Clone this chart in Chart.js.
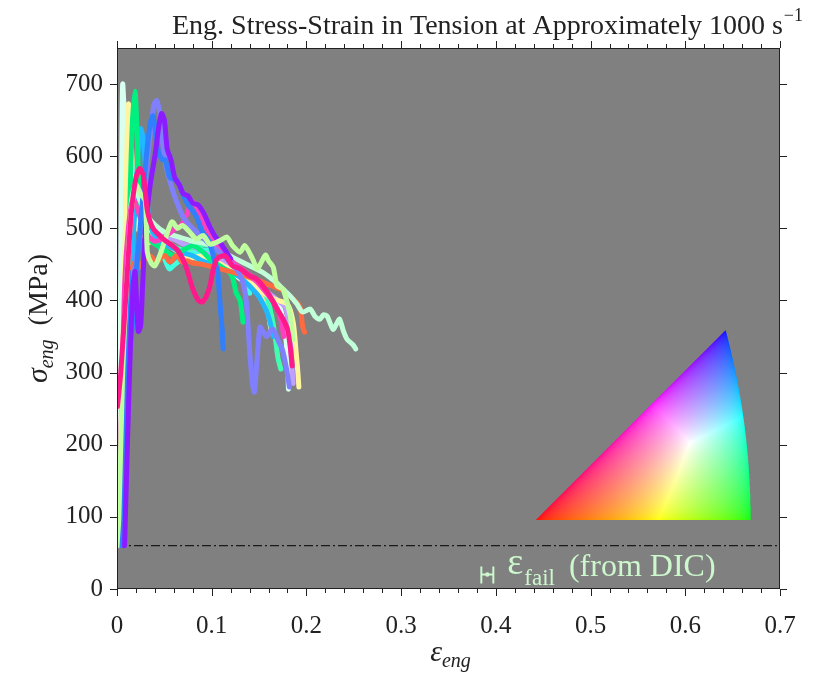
<!DOCTYPE html>
<html>
<head>
<meta charset="utf-8">
<script src="https://cdn.jsdelivr.net/npm/chart.js@4.4.1/dist/chart.umd.min.js"></script>
<style>
  html, body { margin: 0; padding: 0; background: #fff; }
</style>
</head>
<body>
<canvas id="stressChart" width="830" height="674"></canvas>
<script>
(function () {
    "use strict";

    // engineering strain / stress (MPa) pairs
    var curveDeepPink = [[0.0005,253],[0.004,300],[0.01,420],[0.015,520],[0.02,570],[0.024,583],[0.028,572],[0.032,525],[0.038,500],[0.049,485],[0.063,471],[0.072,450],[0.08,416],[0.086,400],[0.09,398],[0.094,405],[0.098,420],[0.102,445],[0.106,458],[0.114,462],[0.122,448],[0.13,444],[0.14,434],[0.147,430],[0.154,420],[0.162,405],[0.169,388],[0.175,375],[0.18,360],[0.183,335],[0.185,309]];
    var curvePaleGreen = [[0.0,60],[0.002,100],[0.006,300],[0.01,420],[0.015,520],[0.02,560],[0.025,548],[0.03,537],[0.032,467],[0.036,452],[0.04,448],[0.045,462],[0.05,481],[0.058,509],[0.064,500],[0.069,504],[0.076,496],[0.084,485],[0.091,490],[0.098,478],[0.104,480],[0.109,483],[0.116,488],[0.122,476],[0.13,467],[0.135,476],[0.143,458],[0.148,444],[0.152,452],[0.157,463],[0.16,455],[0.165,446],[0.169,420],[0.175,416],[0.179,400],[0.183,378],[0.186,345]];
    var curvePurple = [[0.008,60],[0.011,200],[0.014,330],[0.017,420],[0.019,440],[0.021,390],[0.0225,357],[0.025,365],[0.027,420],[0.03,500],[0.035,560],[0.04,600],[0.044,640],[0.047,659],[0.05,650],[0.053,610],[0.057,595],[0.061,570],[0.066,560],[0.07,548],[0.075,545],[0.08,535],[0.086,532],[0.092,520],[0.097,505],[0.103,490],[0.11,478],[0.12,458]];
    var curveBlue = [[0.005,60],[0.008,250],[0.01,420],[0.012,440],[0.0137,341],[0.016,360],[0.019,420],[0.023,480],[0.027,540],[0.031,600],[0.035,645],[0.038,656],[0.041,630],[0.044,605],[0.048,595],[0.051,595],[0.056,570],[0.063,567],[0.069,549],[0.074,535],[0.084,516],[0.09,495],[0.096,485],[0.1,470],[0.104,450],[0.106,444],[0.109,392],[0.111,360],[0.112,333]];
    var curvePeriwinkle = [[0.004,70],[0.01,300],[0.016,420],[0.022,470],[0.027,520],[0.031,580],[0.035,630],[0.039,672],[0.042,677],[0.045,660],[0.048,620],[0.052,585],[0.057,560],[0.062,540],[0.07,515],[0.08,500],[0.09,488],[0.1,475],[0.11,465],[0.12,452],[0.128,440],[0.134,420],[0.137,392],[0.14,330],[0.143,285],[0.145,273],[0.148,320],[0.151,363],[0.155,355],[0.158,350],[0.162,358],[0.165,360],[0.17,345],[0.175,330],[0.179,305],[0.182,280]];
    var curveHotPink = [[0.002,78],[0.004,200],[0.008,420],[0.012,500],[0.017,540],[0.022,525],[0.03,495],[0.04,482],[0.05,488],[0.06,498],[0.068,505],[0.074,520],[0.079,537],[0.084,530],[0.09,512],[0.095,499],[0.1,488],[0.106,478],[0.115,462],[0.125,450],[0.135,440],[0.145,430],[0.155,415],[0.165,398],[0.172,380],[0.176,350]];
    var curveMintTail = [[0.004,70],[0.008,350],[0.013,510],[0.018,555],[0.024,540],[0.03,520],[0.04,505],[0.05,495],[0.065,488],[0.08,482],[0.095,478],[0.11,468],[0.125,458],[0.14,448],[0.155,438],[0.168,425],[0.176,415],[0.183,406],[0.19,395],[0.196,384],[0.204,388],[0.209,378],[0.214,374],[0.218,380],[0.222,378],[0.228,360],[0.232,368],[0.235,374],[0.239,358],[0.243,346],[0.249,339],[0.252,333]];
    var curveOrange = [[0.003,70],[0.007,250],[0.011,380],[0.015,440],[0.018,452],[0.021,444],[0.025,450],[0.028,455],[0.033,462],[0.037,460],[0.041,452],[0.044,455],[0.048,462],[0.051,462],[0.055,454],[0.058,455],[0.062,462],[0.065,460],[0.069,453],[0.074,455],[0.08,452],[0.09,450],[0.1,447],[0.12,440],[0.14,432],[0.16,422],[0.175,414],[0.186,402],[0.193,392],[0.196,364],[0.198,356]];
    var curveSpringGreen = [[0.006,70],[0.01,300],[0.013,500],[0.016,640],[0.019,690],[0.021,640],[0.023,560],[0.026,510],[0.03,490],[0.038,480],[0.05,470],[0.06,462],[0.07,470],[0.08,476],[0.09,468],[0.1,455],[0.11,447],[0.118,440],[0.122,432],[0.126,410],[0.13,400],[0.133,370]];
    var curveSky = [[0.006,70],[0.01,250],[0.015,430],[0.019,530],[0.022,600],[0.025,638],[0.028,620],[0.031,560],[0.034,510],[0.04,490],[0.05,478],[0.06,472],[0.07,466],[0.08,462],[0.09,455],[0.1,450],[0.11,445],[0.12,440],[0.13,432],[0.14,420],[0.15,405],[0.158,385],[0.162,368],[0.165,350]];
    var curveYellow = [[0.003,80],[0.006,300],[0.009,520],[0.012,672],[0.015,620],[0.018,540],[0.022,500],[0.028,490],[0.035,500],[0.045,488],[0.06,472],[0.075,458],[0.09,462],[0.1,456],[0.11,450],[0.125,438],[0.14,425],[0.155,410],[0.17,400],[0.18,395],[0.186,370],[0.189,330],[0.191,300],[0.192,280]];
    var curveLavender = [[0.002,60],[0.005,250],[0.008,400],[0.012,480],[0.016,530],[0.021,552],[0.026,530],[0.032,505],[0.04,495],[0.05,490],[0.06,485],[0.07,478],[0.08,475],[0.09,468],[0.1,460],[0.11,455],[0.12,448],[0.13,440],[0.14,430],[0.15,420],[0.16,410],[0.17,400],[0.178,390],[0.182,360],[0.184,320],[0.186,285]];
    var curveAquaGreen = [[0.004,80],[0.009,400],[0.013,540],[0.017,560],[0.021,530],[0.028,505],[0.04,490],[0.055,478],[0.07,470],[0.085,475],[0.1,478],[0.11,465],[0.12,450],[0.13,440],[0.14,432],[0.15,420],[0.158,405],[0.163,380],[0.167,350],[0.17,320],[0.173,305]];
    var curveTurquoise = [[0.003,80],[0.007,350],[0.011,500],[0.015,540],[0.02,530],[0.026,505],[0.035,490],[0.045,475],[0.055,444],[0.061,450],[0.066,455],[0.072,462],[0.08,466],[0.088,468],[0.095,470],[0.105,455],[0.115,447],[0.125,440],[0.135,428],[0.14,410]];
    var curvePeach = [[0.002,70],[0.006,330],[0.01,500],[0.014,540],[0.019,530],[0.025,505],[0.03,488],[0.034,480],[0.04,490],[0.046,495],[0.055,480],[0.065,470],[0.075,468],[0.085,463],[0.095,458],[0.105,452],[0.115,446],[0.125,440],[0.135,430],[0.145,420],[0.155,405],[0.16,380],[0.163,355]];
    var curveMintWhite = [[0.001,60],[0.003,300],[0.005,600],[0.006,700],[0.008,650],[0.011,580],[0.015,530],[0.02,510],[0.03,495],[0.04,488],[0.055,475],[0.07,465],[0.085,458],[0.1,455],[0.115,445],[0.13,430],[0.145,420],[0.16,405],[0.172,390],[0.177,360],[0.18,320],[0.181,277]];

    // first entry is drawn on top
    var curves = [curveDeepPink, curvePaleGreen, curvePurple, curveBlue, curvePeriwinkle, curveHotPink,
        curveMintTail, curveOrange, curveSpringGreen, curveSky, curveYellow, curveLavender,
        curveAquaGreen, curveTurquoise, curvePeach, curveMintWhite];
    var curveColors = ["#ff1a8c", "#c0ffa0", "#8c1cff", "#2f7fff", "#8080ff", "#ff40c0",
        "#c0ffd8", "#ff6a40", "#00f080", "#20b8ff", "#fff5a0", "#c0a0ff",
        "#40ffb0", "#40ffe0", "#ffe0a0", "#d8fff0"];

    var cutoffStress = 60;
    var failStrainMark = 0.391;

    var serif = "'Liberation Serif', 'Times New Roman', serif";
    var ink = "#222";
    var keyColor = "#cdf7cd";

    var datasets = curves.map(function (c, i) {
        return {
            data: c.map(function (p) { return {x: p[0], y: p[1]}; }),
            borderColor: curveColors[i],
            borderWidth: 5,
            borderCapStyle: "round",
            borderJoinStyle: "round",
            pointRadius: 0,
            tension: 0.25,
            fill: false
        };
    });
    datasets.push({
        data: [{x: 0, y: cutoffStress}, {x: 0.7, y: cutoffStress}],
        borderColor: "#1a1a1a",
        borderWidth: 1.3,
        borderDash: [9, 3, 2, 3],
        pointRadius: 0,
        tension: 0,
        fill: false
    });

    // gray plotting area
    var plotBackground = {
        id: "plotBackground",
        beforeDraw: function (chart) {
            var a = chart.chartArea, ctx = chart.ctx;
            ctx.save();
            ctx.fillStyle = "#808080";
            ctx.fillRect(a.left, a.top, a.right - a.left, a.bottom - a.top);
            ctx.restore();
        }
    };

    // IPF colour key (cubic standard triangle, stereographic)
    function ipfColor(X, Y) {
        if (Y < 0 || Y > X) return null;
        var q = X * X + Y * Y, den = 1 + q;
        var dx = 2 * X / den, dy = 2 * Y / den, dz = (1 - q) / den;
        if (dx > dz) return null;
        var r = dz - dx, g = dx - dy, b = dy;
        var m = Math.max(r, g, b) || 1;
        return [Math.sqrt(r / m), Math.sqrt(g / m), Math.sqrt(b / m)];
    }

    var ipfKey = {
        id: "ipfKey",
        afterDatasetsDraw: function (chart, args, opts) {
            var ctx = chart.ctx, xs = chart.scales.x, ys = chart.scales.y;
            var x0 = Math.round(xs.getPixelForValue(opts.strain));
            var y0 = Math.round(ys.getPixelForValue(opts.stress));
            var w = xs.getPixelForValue(opts.strain + opts.width) - x0;
            var s = w / (Math.SQRT2 - 1);
            var W = Math.ceil(w) + 2, H = Math.ceil(0.37 * s) + 2;
            var off = document.createElement("canvas");
            off.width = W; off.height = H;
            var octx = off.getContext("2d");
            var img = octx.createImageData(W, H);
            var n = 3;
            for (var j = 0; j < H; j++) {
                for (var i = 0; i < W; i++) {
                    var cr = 0, cg = 0, cb = 0, cnt = 0;
                    for (var a = 0; a < n; a++) {
                        for (var b = 0; b < n; b++) {
                            var c = ipfColor((i + (a + 0.5) / n) / s, (H - j - (b + 0.5) / n) / s);
                            if (c) { cr += c[0]; cg += c[1]; cb += c[2]; cnt++; }
                        }
                    }
                    if (!cnt) continue;
                    var k = (j * W + i) * 4;
                    img.data[k] = 255 * cr / cnt;
                    img.data[k + 1] = 255 * cg / cnt;
                    img.data[k + 2] = 255 * cb / cnt;
                    img.data[k + 3] = 255 * cnt / (n * n);
                }
            }
            octx.putImageData(img, 0, 0);
            ctx.drawImage(off, x0, y0 - H);
        }
    };

    // error bar marker + "ε_fail (from DIC)"
    var failLegend = {
        id: "failLegend",
        afterDatasetsDraw: function (chart) {
            var ctx = chart.ctx;
            var ax = chart.scales.x.getPixelForValue(failStrainMark);
            var ay = chart.scales.y.getPixelForValue(20);
            ctx.save();
            ctx.strokeStyle = keyColor;
            ctx.fillStyle = keyColor;
            ctx.lineWidth = 2;
            ctx.beginPath();
            ctx.moveTo(ax - 6, ay - 8); ctx.lineTo(ax - 6, ay + 9);
            ctx.moveTo(ax + 6, ay - 8); ctx.lineTo(ax + 6, ay + 9);
            ctx.moveTo(ax - 6, ay); ctx.lineTo(ax + 6, ay);
            ctx.stroke();
            ctx.beginPath();
            ctx.arc(ax, ay, 2.2, 0, Math.PI * 2);
            ctx.fill();
            ctx.textBaseline = "alphabetic";
            ctx.textAlign = "left";
            var tx = ax + 20;
            ctx.font = "38px " + serif;
            ctx.fillText("\u03b5", tx, ay - 1);
            tx += ctx.measureText("\u03b5").width + 1;
            ctx.font = "23px " + serif;
            ctx.fillText("fail", tx, ay + 10);
            tx += ctx.measureText("fail").width + 14;
            ctx.font = "32px " + serif;
            ctx.fillText("(from DIC)", tx, ay + 1);
            ctx.restore();
        }
    };

    // frame, ticks on all four sides, titles
    var frameAndTitles = {
        id: "frameAndTitles",
        afterDraw: function (chart) {
            var ctx = chart.ctx, a = chart.chartArea;
            var xs = chart.scales.x, ys = chart.scales.y;
            ctx.save();
            ctx.strokeStyle = ink;
            ctx.lineWidth = 1;
            ctx.strokeRect(a.left + 0.5, a.top + 0.5, a.right - a.left - 1, a.bottom - a.top - 1);
            ctx.beginPath();
            for (var i = 0; i <= 35; i++) {
                var px = Math.round(xs.getPixelForValue(i * 0.02)) + 0.5;
                var len = (i % 5 === 0) ? 7 : 4;
                ctx.moveTo(px, a.bottom); ctx.lineTo(px, a.bottom + len);
                ctx.moveTo(px, a.top); ctx.lineTo(px, a.top - len);
            }
            for (var v = 0; v <= 700; v += 100) {
                var py = Math.round(ys.getPixelForValue(v)) + 0.5;
                ctx.moveTo(a.left, py); ctx.lineTo(a.left - 7, py);
                ctx.moveTo(a.right, py); ctx.lineTo(a.right + 7, py);
            }
            ctx.stroke();

            ctx.fillStyle = ink;
            ctx.textBaseline = "alphabetic";
            ctx.textAlign = "left";

            // title
            ctx.font = "28px " + serif;
            var title = "Eng. Stress-Strain in Tension at Approximately 1000 s";
            var tw = ctx.measureText(title).width;
            var tx = 172;
            ctx.fillText(title, tx, 34);
            ctx.font = "18px " + serif;
            ctx.fillText("\u22121", tx + tw + 1, 21);

            // x title
            ctx.font = "italic 30px " + serif;
            var ew = ctx.measureText("\u03b5").width;
            ctx.font = "italic 20px " + serif;
            var sw = ctx.measureText("eng").width;
            var x0 = (a.left + a.right) / 2 - (ew + sw) / 2 + 2;
            ctx.font = "italic 30px " + serif;
            ctx.fillText("\u03b5", x0, 661);
            ctx.font = "italic 20px " + serif;
            ctx.fillText("eng", x0 + ew, 667);

            // y title
            ctx.translate(47, (a.top + a.bottom) / 2);
            ctx.rotate(-Math.PI / 2);
            ctx.font = "italic 30px " + serif;
            var gw = ctx.measureText("\u03c3").width;
            ctx.font = "italic 20px " + serif;
            var gw2 = ctx.measureText("eng").width;
            ctx.font = "28px " + serif;
            var gw3 = ctx.measureText("  (MPa)").width;
            var y0 = -(gw + gw2 + gw3) / 2;
            ctx.font = "italic 30px " + serif;
            ctx.fillText("\u03c3", y0, 0);
            ctx.font = "italic 20px " + serif;
            ctx.fillText("eng", y0 + gw, 6);
            ctx.font = "28px " + serif;
            ctx.fillText("  (MPa)", y0 + gw + gw2, 0);
            ctx.restore();
        }
    };

    var ctx = document.getElementById("stressChart").getContext("2d");
    var stressChart = new Chart(ctx, {
        type: "line",
        data: {datasets: datasets},
        options: {
            responsive: false,
            animation: false,
            events: [],
            layout: {padding: {top: 48, right: 50, left: 0, bottom: 0}},
            plugins: {
                legend: {display: false},
                tooltip: {enabled: false},
                ipfKey: {strain: 0.442, stress: 96, width: 0.227}
            },
            scales: {
                x: {
                    type: "linear",
                    min: 0,
                    max: 0.7,
                    grid: {display: false, drawTicks: false},
                    border: {display: false},
                    ticks: {stepSize: 0.1, maxRotation: 0, padding: 22, color: ink, font: {family: serif, size: 25}},
                    afterFit: function (scale) { scale.height = 85; }
                },
                y: {
                    type: "linear",
                    min: 0,
                    max: 750,
                    grid: {display: false, drawTicks: false},
                    border: {display: false},
                    ticks: {stepSize: 100, padding: 14, color: ink, font: {family: serif, size: 25}},
                    afterBuildTicks: function (scale) {
                        scale.ticks = scale.ticks.filter(function (t) { return t.value <= 700; });
                    },
                    afterFit: function (scale) { scale.width = 117; }
                }
            }
        },
        plugins: [plotBackground, ipfKey, failLegend, frameAndTitles]
    });
})();
</script>
</body>
</html>
